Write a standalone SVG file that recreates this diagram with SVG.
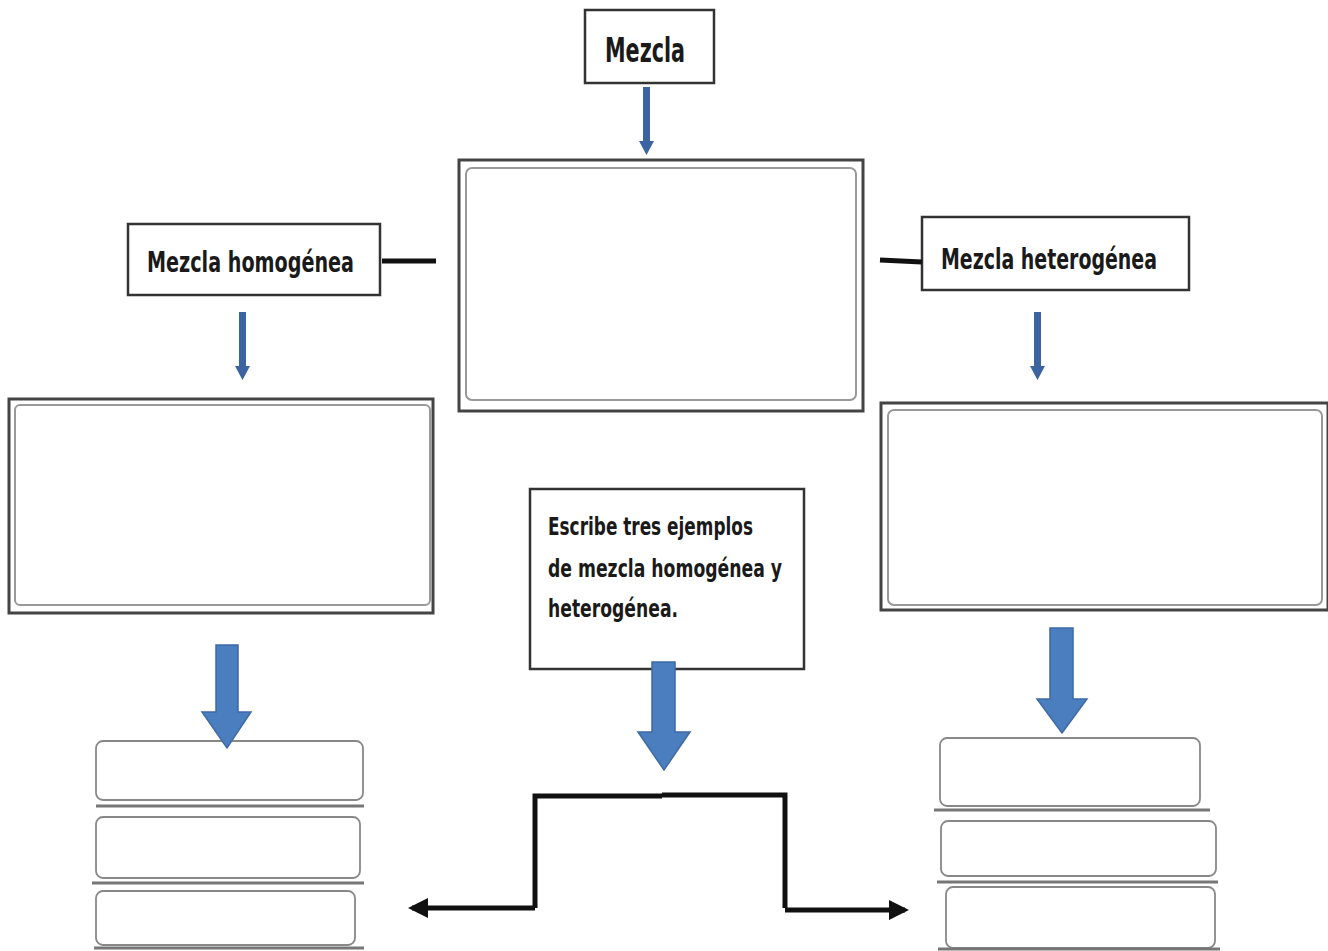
<svg xmlns="http://www.w3.org/2000/svg" width="1328" height="951" viewBox="0 0 1328 951">
<defs>
<style>
.lbl{font-family:"DejaVu Sans Condensed","Liberation Sans",sans-serif;font-weight:bold;fill:#1a1a1a}
.box{fill:#fff;stroke:#333;stroke-width:2.5}
.outer{fill:#fff;stroke:#444;stroke-width:3}
.inner{fill:#fff;stroke:#999;stroke-width:2}
.slot{fill:#fff;stroke:#888;stroke-width:1.8}
.base{stroke:#777;stroke-width:3}
.thin{fill:#3b64a0}
.block{fill:#4a7ebf;stroke:#3e6aa6;stroke-width:1.5}
.conn{fill:none;stroke:#111;stroke-width:5}
</style>
<marker id="ah" viewBox="0 0 10 10" refX="8" refY="5" markerWidth="4" markerHeight="4" orient="auto-start-reverse">
<path d="M0,0 L10,5 L0,10 Z" fill="#111"/>
</marker>
</defs>
<rect width="1328" height="951" fill="#fff"/>

<g id="mezcla">
<rect class="box" x="585" y="10" width="129" height="73"/>
<text class="lbl" x="605" y="62" font-size="33" textLength="80" lengthAdjust="spacingAndGlyphs">Mezcla</text>
</g>

<g id="centro">
<rect class="outer" x="459" y="160" width="404" height="251"/>
<rect class="inner" x="466" y="168" width="390" height="232" rx="6"/>
</g>

<g id="homogenea">
<rect class="box" x="128" y="224" width="252" height="71"/>
<text class="lbl" x="147" y="272" font-size="29" textLength="207" lengthAdjust="spacingAndGlyphs">Mezcla homogénea</text>
</g>

<g id="heterogenea">
<rect class="box" x="922" y="217" width="267" height="73"/>
<text class="lbl" x="941" y="269" font-size="29" textLength="216" lengthAdjust="spacingAndGlyphs">Mezcla heterogénea</text>
</g>

<g id="caja-homogenea">
<rect class="outer" x="9" y="399" width="424" height="214"/>
<rect class="inner" x="15" y="405" width="415" height="200" rx="5"/>
</g>

<g id="caja-heterogenea">
<rect class="outer" x="881" y="403" width="447" height="207"/>
<rect class="inner" x="888" y="410" width="434" height="195" rx="6"/>
</g>

<g id="instruccion">
<rect class="box" x="530" y="489" width="274" height="180" stroke="#555"/>
<text class="lbl" font-size="24">
<tspan x="548" y="535" textLength="205" lengthAdjust="spacingAndGlyphs">Escribe tres ejemplos</tspan>
<tspan x="548" y="577" textLength="234" lengthAdjust="spacingAndGlyphs">de mezcla homogénea y</tspan>
<tspan x="548" y="617" textLength="130" lengthAdjust="spacingAndGlyphs">heterogénea.</tspan>
</text>
</g>

<g id="ejemplos-homogenea">
<rect class="slot" x="96" y="741" width="267" height="59" rx="7"/>
<line class="base" x1="96" y1="806" x2="364" y2="806"/>
<rect class="slot" x="96" y="817" width="264" height="61" rx="7"/>
<line class="base" x1="92" y1="883" x2="364" y2="883"/>
<rect class="slot" x="96" y="891" width="259" height="54" rx="7"/>
<line class="base" x1="94" y1="948" x2="364" y2="948"/>
</g>

<g id="ejemplos-heterogenea">
<rect class="slot" x="940" y="738" width="260" height="68" rx="7"/>
<line class="base" x1="934" y1="810" x2="1210" y2="810"/>
<rect class="slot" x="941" y="821" width="275" height="55" rx="7"/>
<line class="base" x1="937" y1="882" x2="1218" y2="882"/>
<rect class="slot" x="946" y="887" width="269" height="61" rx="7"/>
<line class="base" x1="938" y1="949" x2="1220" y2="949"/>
</g>

<g id="conectores">
<path class="thin" d="M643,87 H650 V141 H654 L646.5,155 L639,141 H643 Z"/>
<path class="thin" d="M239,312 H246 V366 H250 L242.5,380 L235,366 H239 Z"/>
<path class="thin" d="M1034,312 H1041 V366 H1045 L1037.5,380 L1030,366 H1034 Z"/>
<line x1="382" y1="261" x2="436" y2="261" stroke="#111" stroke-width="5"/>
<line x1="880" y1="260" x2="922" y2="262" stroke="#111" stroke-width="5"/>
<path class="block" d="M216,645 H238 V712 H251 L227,748 L202,712 H216 Z"/>
<path class="block" d="M652,662 H675 V732 H690 L664,770 L638,732 H652 Z"/>
<path class="block" d="M1050,628 H1073 V699 H1087 L1062,733 L1037,699 H1050 Z"/>
<polyline class="conn" points="535,908 535,796 662,796"/>
<polyline class="conn" points="662,795 785,795 785,908"/>
<line class="conn" x1="535" y1="908" x2="412" y2="908" marker-end="url(#ah)"/>
<line class="conn" x1="785" y1="910" x2="905" y2="910" marker-end="url(#ah)"/>
</g>
</svg>
